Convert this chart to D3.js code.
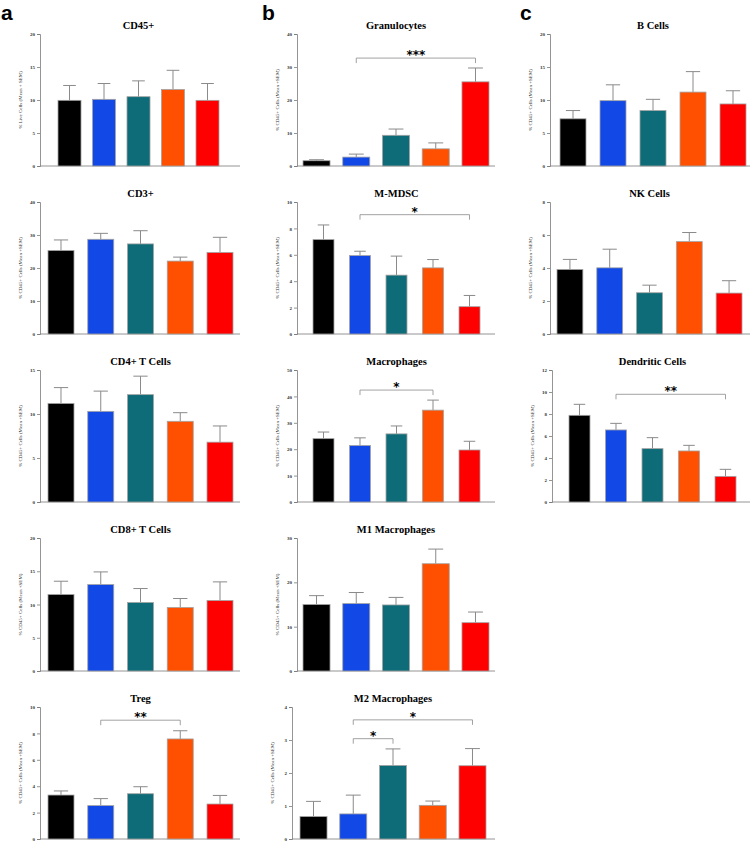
<!DOCTYPE html>
<html>
<head>
<meta charset="utf-8">
<script src="https://cdn.jsdelivr.net/npm/d3@7"></script>
<style>
  body { margin: 0; background: #fff; }
  svg { display: block; }
</style>
</head>
<body>
<svg id="fig" width="753" height="842"></svg>
<script>
// five treatment groups, same order in every panel
const groups = ["G1", "G2", "G3", "G4", "G5"];
const groupColors = ["#000000", "#1249e6", "#0d6c77", "#fe5000", "#fe0000"];

const titles = ["CD45+", "CD3+", "CD4+ T Cells", "CD8+ T Cells", "Treg",
  "Granulocytes", "M-MDSC", "Macrophages", "M1 Macrophages", "M2 Macrophages",
  "B Cells", "NK Cells", "Dendritic Cells"];
const yLabels = ["% Live Cells (Mean + SEM)"].concat(d3.range(12).map(() => "% CD45+ Cells (Mean +SEM)"));
const yMax = [20, 40, 15, 20, 10, 40, 10, 50, 30, 4, 20, 8, 12];
const yStep = [5, 10, 5, 5, 2, 10, 2, 10, 10, 1, 5, 2, 2];

const means = [
  [9.95, 10.1, 10.5, 11.6, 9.95],
  [25.3, 28.7, 27.3, 22.1, 24.7],
  [11.2, 10.3, 12.2, 9.17, 6.8],
  [11.5, 13.0, 10.3, 9.55, 10.6],
  [3.33, 2.53, 3.43, 7.58, 2.65],
  [1.6, 2.7, 9.3, 5.2, 25.5],
  [7.15, 5.94, 4.46, 5.01, 2.07],
  [24.0, 21.4, 25.8, 34.8, 19.7],
  [15.0, 15.2, 14.9, 24.2, 10.9],
  [0.68, 0.76, 2.23, 1.02, 2.22],
  [7.15, 9.9, 8.4, 11.2, 9.4],
  [3.91, 4.01, 2.5, 5.6, 2.48],
  [7.88, 6.55, 4.85, 4.64, 2.33]
];
const sems = [
  [2.25, 2.4, 2.4, 2.9, 2.55],
  [3.2, 1.8, 4.0, 1.2, 4.6],
  [1.8, 2.3, 2.1, 0.98, 1.84],
  [2.0, 1.9, 2.1, 1.35, 2.8],
  [0.31, 0.53, 0.53, 0.62, 0.65],
  [0.3, 0.9, 1.9, 1.8, 4.2],
  [1.11, 0.33, 1.44, 0.63, 0.85],
  [2.5, 2.9, 3.0, 3.8, 3.3],
  [2.0, 2.5, 1.7, 3.3, 2.4],
  [0.46, 0.57, 0.5, 0.13, 0.52],
  [1.25, 2.4, 1.7, 3.1, 2.0],
  [0.61, 1.13, 0.46, 0.55, 0.75],
  [1.0, 0.6, 1.0, 0.51, 0.64]
];
// significance brackets: panel index, from group, to group, height (data units), stars
const bracketPanel = [5, 6, 7, 12, 4, 9, 9];
const bracketFrom = [1, 1, 1, 1, 1, 1, 1];
const bracketTo = [4, 4, 3, 4, 3, 2, 4];
const bracketY = [32.7, 9.04, 42.4, 9.79, 9.0, 3.04, 3.61];
const bracketStars = ["***", "*", "*", "**", "**", "*", "*"];

const panelLetters = ["a", "b", "c"];

// ---- layout (pixels) ----
const colAxisX = [40, 297, 550];
const colEndX = [240, 495, 750];
const rowTop = [34, 202, 370, 538, 707];
const rowZero = [166, 334, 502, 671, 839];
const letterX = [1, 262, 520];
// per panel: col, row, bar left, bar right, inner padding
const geom = [
  [0, 0, 58, 219, 0.333], [0, 1, 48, 233, 0.346], [0, 2, 48, 233, 0.346],
  [0, 3, 48, 233, 0.346], [0, 4, 48, 233, 0.346],
  [1, 0, 303, 489, 0.32], [1, 1, 313, 480, 0.425], [1, 2, 313, 480, 0.425],
  [1, 3, 303, 489, 0.32], [1, 4, 300, 486, 0.32],
  [2, 0, 560, 746, 0.35], [2, 1, 557, 742, 0.35], [2, 2, 569, 736, 0.425]
];
const axisXOverride = { 9: 292, 12: 552 };

const svg = d3.select("#fig");
const serif = "'Liberation Serif', 'Times New Roman', serif";
const axisColor = "#7a7a7a";

panelLetters.forEach(function (l, i) {
  svg.append("text")
    .attr("x", letterX[i]).attr("y", 20)
    .attr("font-family", "'Liberation Sans', Arial, sans-serif")
    .attr("font-weight", "bold").attr("font-size", "21px")
    .text(l);
});

const scales = [];

titles.forEach(function (title, p) {
  const [col, row, bl, br, pad] = geom[p];
  const ax = axisXOverride[p] !== undefined ? axisXOverride[p] : colAxisX[col];
  const x = d3.scaleBand().domain(groups).range([bl, br]).paddingInner(pad).paddingOuter(0);
  const y = d3.scaleLinear().domain([0, yMax[p]]).range([rowZero[row], rowTop[row]]);
  scales[p] = { x: x, y: y };

  const g = svg.append("g");

  // title
  g.append("text")
    .attr("x", (bl + br) / 2).attr("y", rowTop[row] - 5)
    .attr("text-anchor", "middle")
    .attr("font-family", serif).attr("font-weight", "bold").attr("font-size", "10.5px")
    .text(title);

  // y axis
  const yAxis = d3.axisLeft(y).tickValues(d3.range(0, yMax[p] + 0.001, yStep[p]))
    .tickSize(3).tickPadding(2).tickFormat(d3.format("d"));
  const ya = g.append("g").attr("transform", "translate(" + ax + ",0)").call(yAxis);
  ya.select(".domain").attr("stroke", axisColor).attr("stroke-width", 0.8);
  ya.selectAll(".tick line").attr("stroke", axisColor).attr("stroke-width", 0.8);
  ya.selectAll(".tick text")
    .attr("font-family", serif).attr("font-weight", "bold").attr("font-size", "5px")
    .attr("fill", "#333");

  // x axis baseline
  g.append("line")
    .attr("x1", ax).attr("x2", colEndX[col])
    .attr("y1", y(0)).attr("y2", y(0))
    .attr("stroke", axisColor).attr("stroke-width", 0.8);

  // y label
  g.append("text")
    .attr("transform", "translate(" + (ax - 18) + "," + (rowTop[row] + rowZero[row]) / 2 + ") rotate(-90)")
    .attr("text-anchor", "middle")
    .attr("font-family", serif).attr("font-size", "5px").attr("fill", "#333")
    .text(yLabels[p]);

  const rows = groups.map((k, i) => ({ k: k, m: means[p][i], s: sems[p][i], c: groupColors[i] }));

  // error bars (upper only)
  const capW = x.bandwidth() * 0.55;
  const eb = g.append("g").selectAll("g").data(rows).join("g");
  eb.append("line")
    .attr("x1", d => x(d.k) + x.bandwidth() / 2).attr("x2", d => x(d.k) + x.bandwidth() / 2)
    .attr("y1", d => y(d.m)).attr("y2", d => y(d.m + d.s))
    .attr("stroke", "#8a8a8a").attr("stroke-width", 1);
  eb.append("line")
    .attr("x1", d => x(d.k) + x.bandwidth() / 2 - capW / 2)
    .attr("x2", d => x(d.k) + x.bandwidth() / 2 + capW / 2)
    .attr("y1", d => y(d.m + d.s)).attr("y2", d => y(d.m + d.s))
    .attr("stroke", "#8a8a8a").attr("stroke-width", 1);

  // bars
  g.append("g").selectAll("rect").data(rows).join("rect")
    .attr("x", d => x(d.k)).attr("width", x.bandwidth())
    .attr("y", d => y(d.m)).attr("height", d => y(0) - y(d.m))
    .attr("fill", d => d.c)
    .attr("stroke", "#a3a3a3").attr("stroke-width", 0.8);
});

// significance brackets
bracketPanel.forEach(function (p, i) {
  const s = scales[p];
  const x1 = s.x(groups[bracketFrom[i]]) + s.x.bandwidth() / 2;
  const x2 = s.x(groups[bracketTo[i]]) + s.x.bandwidth() / 2;
  const yy = s.y(bracketY[i]);
  svg.append("path")
    .attr("d", "M" + x1 + "," + (yy + 5) + "V" + yy + "H" + x2 + "V" + (yy + 5))
    .attr("fill", "none").attr("stroke", "#8a8a8a").attr("stroke-width", 0.8);
  svg.append("text")
    .attr("x", (x1 + x2) / 2).attr("y", yy + 1)
    .attr("text-anchor", "middle")
    .attr("font-family", "'DejaVu Sans', sans-serif").attr("font-weight", "bold")
    .attr("font-size", "12px")
    .text(bracketStars[i]);
});
</script>
</body>
</html>
